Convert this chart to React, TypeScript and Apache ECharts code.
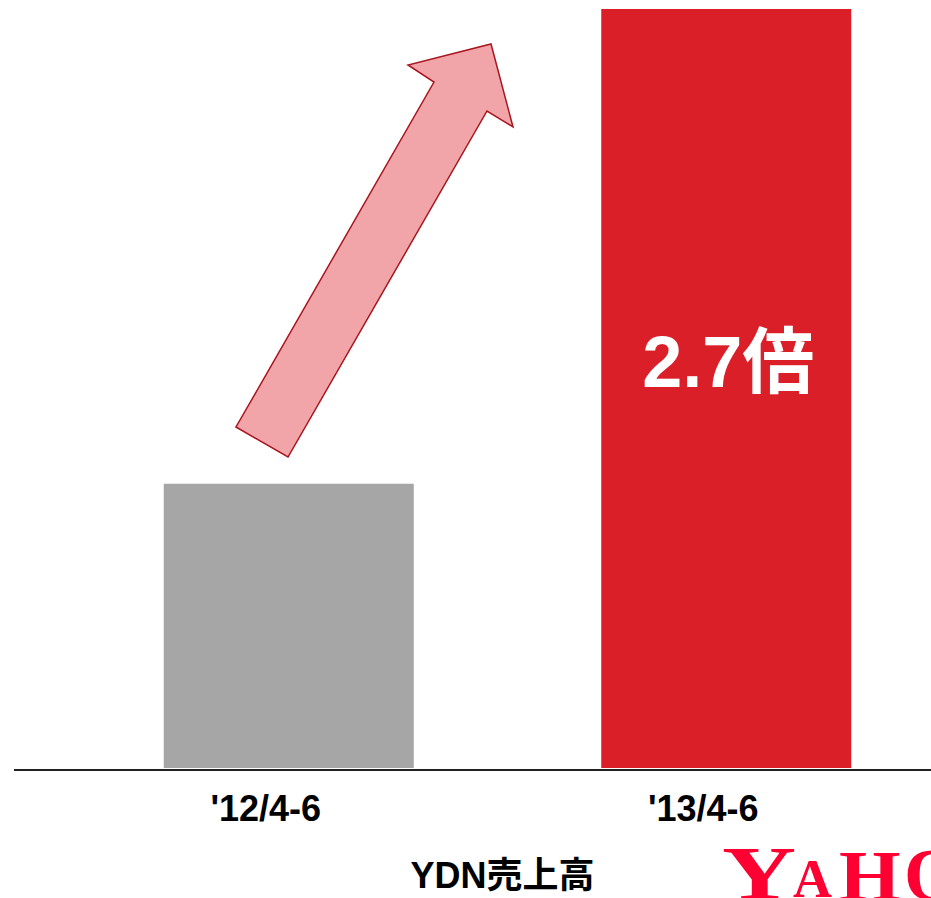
import React, { useEffect, useRef } from "react";
import * as echarts from "echarts";

const categories = ["'12/4-6", "'13/4-6"];
const salesIndex = [100, 267];
const barColors = ["#A6A6A6", "#DA1F29"];
const growthLabel = "2.7倍";
const axisTitle = "YDN売上高";

const FONT = "'Liberation Sans', Arial, 'Noto Sans CJK JP', sans-serif";

export default function App() {
  const ref = useRef<HTMLDivElement>(null);
  useEffect(() => {
    document.body.style.margin = "0";
    document.body.style.overflow = "hidden";
    const chart = echarts.init(ref.current!, null, { renderer: "svg" });
    chart.setOption({
      animation: false,
      backgroundColor: "#ffffff",
      grid: { left: 70, right: 0, top: 9, bottom: 126, containLabel: false },
      xAxis: {
        type: "category",
        data: categories,
        axisLine: { show: false },
        axisTick: { show: false },
        axisLabel: {
          color: "#000",
          fontSize: 36,
          fontWeight: "bold",
          fontFamily: FONT,
          margin: 22,
          padding: [0, 46, 0, 0],
        },
        name: axisTitle,
        nameLocation: "middle",
        nameGap: 89,
        nameTextStyle: {
          color: "#000",
          fontSize: 36,
          fontWeight: "bold",
          fontFamily: FONT,
          padding: [0, 10, 0, 0],
        },
      },
      yAxis: { type: "value", show: false, min: 0, max: salesIndex[1], splitLine: { show: false } },
      series: [
        {
          type: "bar",
          barWidth: 250,
          data: salesIndex.map((v, i) => ({
            value: v,
            itemStyle: { color: barColors[i] },
            label:
              i === 1
                ? {
                    show: true,
                    position: "inside",
                    offset: [2, -27],
                    formatter: growthLabel,
                    color: "#ffffff",
                    fontSize: 72,
                    fontWeight: "bold",
                    fontFamily: FONT,
                  }
                : { show: false },
          })),
        },
      ],
      graphic: [
        {
          type: "line",
          shape: { x1: 14, y1: 770, x2: 931, y2: 770 },
          style: { stroke: "#222222", lineWidth: 2 },
          z: 10,
        },
        {
          type: "polygon",
          shape: {
            points: [
              [236, 427],
              [288, 457],
              [487, 111],
              [513, 127],
              [491, 44],
              [408, 65],
              [434, 82],
            ],
          },
          style: { fill: "#F2A5A8", stroke: "#A8161F", lineWidth: 1.5 },
          z: 10,
        },
        {
          type: "group",
          z: 10,
          children: [
            { type: "text", x: 722, y: 836, scaleX: 1.35, style: { text: "Y", fill: "#FF0033", font: "bold 76px 'Liberation Serif', serif" } },
            { type: "text", x: 793, y: 852, style: { text: "A", fill: "#FF0033", font: "bold 54px 'Liberation Serif', serif" } },
            { type: "text", x: 839, y: 840, scaleX: 1.1, style: { text: "H", fill: "#FF0033", font: "bold 72px 'Liberation Serif', serif" } },
            { type: "text", x: 904, y: 838, style: { text: "O", fill: "#FF0033", font: "bold 74px 'Liberation Serif', serif" } },
          ],
        },
      ],
    });
    return () => chart.dispose();
  }, []);
  return (
    <div
      ref={ref}
      style={{ position: "fixed", left: 0, top: 0, width: 945, height: 898, background: "#fff" }}
    />
  );
}
